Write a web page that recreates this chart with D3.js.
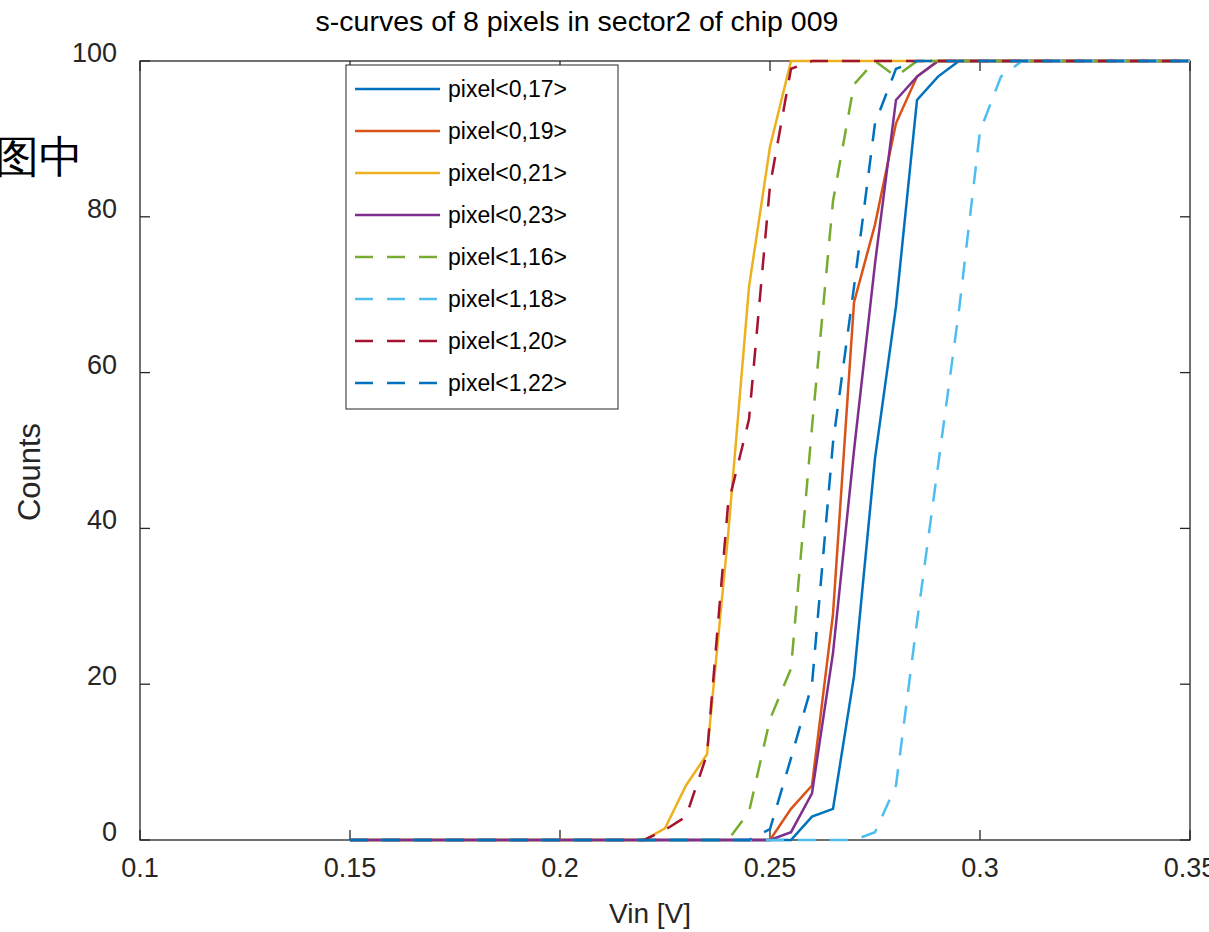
<!DOCTYPE html>
<html>
<head>
<meta charset="utf-8">
<script src="https://cdn.jsdelivr.net/npm/d3@7"></script>
<style>
  body { margin: 0; background: #fff; }
  text { font-family: "Liberation Sans", Arial, sans-serif; }
</style>
</head>
<body>
<script>
// sweep voltages (V)
var vin = [0.150, 0.155, 0.160, 0.165, 0.170, 0.175, 0.180, 0.185, 0.190, 0.195,
           0.200, 0.205, 0.210, 0.215, 0.220, 0.225, 0.230, 0.235, 0.240, 0.245,
           0.250, 0.255, 0.260, 0.265, 0.270, 0.275, 0.280, 0.285, 0.290, 0.295,
           0.300, 0.305, 0.310, 0.315, 0.320, 0.325, 0.330, 0.335, 0.340, 0.345, 0.350];

// counts per pixel
var p0_17 = [0,0,0,0,0,0,0,0,0,0, 0,0,0,0,0,0,0,0,0,0, 0,0,3,4,21,49,68.5,95,98,100, 100,100,100,100,100,100,100,100,100,100,100];
var p0_19 = [0,0,0,0,0,0,0,0,0,0, 0,0,0,0,0,0,0,0,0,0, 0,4,7,29,69,79,92,98,100,100, 100,100,100,100,100,100,100,100,100,100,100];
var p0_21 = [0,0,0,0,0,0,0,0,0,0, 0,0,0,0,0,1.5,7,11,39,71, 89,100,100,100,100,100,100,100,100,100, 100,100,100,100,100,100,100,100,100,100,100];
var p0_23 = [0,0,0,0,0,0,0,0,0,0, 0,0,0,0,0,0,0,0,0,0, 0,1,6,24,50,74,95,98,100,100, 100,100,100,100,100,100,100,100,100,100,100];
var p1_16 = [0,0,0,0,0,0,0,0,0,0, 0,0,0,0,0,0,0,0,0,3.6, 15.5,22,53,82,97,100,98,100,100,100, 100,100,100,100,100,100,100,100,100,100,100];
var p1_18 = [0,0,0,0,0,0,0,0,0,0, 0,0,0,0,0,0,0,0,0,0, 0,0,0,0,0,1,7,28,48,68, 91,98,100,100,100,100,100,100,100,100,100];
var p1_20 = [0,0,0,0,0,0,0,0,0,0, 0,0,0,0,0,1.3,3,11,43,54, 84,99,100,100,100,100,100,100,100,100, 100,100,100,100,100,100,100,100,100,100,100];
var p1_22 = [0,0,0,0,0,0,0,0,0,0, 0,0,0,0,0,0,0,0,0,0, 1.4,10.5,20,51,71,92,99,100,100,100, 100,100,100,100,100,100,100,100,100,100,100];

var names = ['pixel<0,17>', 'pixel<0,19>', 'pixel<0,21>', 'pixel<0,23>',
             'pixel<1,16>', 'pixel<1,18>', 'pixel<1,20>', 'pixel<1,22>'];
var seriesValues = [p0_17, p0_19, p0_21, p0_23, p1_16, p1_18, p1_20, p1_22];
var colors = ['#0072BD', '#D95319', '#EDB120', '#7E2F8E', '#77AC30', '#4DBEEE', '#A2142F', '#0072BD'];
var dashed = [false, false, false, false, true, true, true, true];

var xTicks = [0.1, 0.15, 0.2, 0.25, 0.3, 0.35];
var xTickLabels = ['0.1', '0.15', '0.2', '0.25', '0.3', '0.35'];
var yTicks = [0, 20, 40, 60, 80, 100];

var width = 1209;
var height = 932;
// plot box edges (note: "top" is reserved on window)
var pLeft = 140, pRight = 1190, pTop = 61, pBottom = 840;
var axisColor = '#262626';
var dash = '18,14';

var x = d3.scaleLinear().domain([0.1, 0.35]).range([pLeft, pRight]);
var y = d3.scaleLinear().domain([0, 100]).range([pBottom, pTop]);

var svg = d3.select('body').append('svg')
  .attr('width', width)
  .attr('height', height);

// axes box with inward ticks on all four sides
var box = svg.append('g');
box.append('rect')
  .attr('x', pLeft).attr('y', pTop)
  .attr('width', pRight - pLeft).attr('height', pBottom - pTop)
  .attr('fill', 'none').attr('stroke', axisColor).attr('stroke-width', 1.3);

var tickLen = 10;
xTicks.forEach(function(t) {
  box.append('line').attr('x1', x(t)).attr('x2', x(t)).attr('y1', pBottom).attr('y2', pBottom - tickLen)
    .attr('stroke', axisColor).attr('stroke-width', 1.3);
  box.append('line').attr('x1', x(t)).attr('x2', x(t)).attr('y1', pTop).attr('y2', pTop + tickLen)
    .attr('stroke', axisColor).attr('stroke-width', 1.3);
});
yTicks.forEach(function(t) {
  box.append('line').attr('x1', pLeft).attr('x2', pLeft + tickLen).attr('y1', y(t)).attr('y2', y(t))
    .attr('stroke', axisColor).attr('stroke-width', 1.3);
  box.append('line').attr('x1', pRight).attr('x2', pRight - tickLen).attr('y1', y(t)).attr('y2', y(t))
    .attr('stroke', axisColor).attr('stroke-width', 1.3);
});

svg.selectAll('.xlab')
  .data(xTicks)
  .enter().append('text')
    .attr('class', 'xlab')
    .attr('x', function(d) { return x(d); })
    .attr('y', pBottom + 37)
    .attr('text-anchor', 'middle')
    .attr('font-size', 27)
    .attr('fill', axisColor)
    .text(function(d, i) { return xTickLabels[i]; });

svg.selectAll('.ylab')
  .data(yTicks)
  .enter().append('text')
    .attr('class', 'ylab')
    .attr('x', 117)
    .attr('y', function(d) { return y(d) + 1; })
    .attr('text-anchor', 'end')
    .attr('font-size', 27)
    .attr('fill', axisColor)
    .text(function(d) { return d; });

// curves
var line = d3.line()
  .x(function(d, i) { return x(vin[i]); })
  .y(function(d) { return y(d); });

svg.selectAll('.curve')
  .data(seriesValues)
  .enter().append('path')
    .attr('class', 'curve')
    .attr('d', line)
    .attr('fill', 'none')
    .attr('stroke', function(d, i) { return colors[i]; })
    .attr('stroke-width', 2.5)
    .attr('stroke-dasharray', function(d, i) { return dashed[i] ? dash : null; });

// legend
var legend = svg.append('g');
legend.append('rect')
  .attr('x', 346).attr('y', 65).attr('width', 272).attr('height', 344)
  .attr('fill', '#fff').attr('stroke', axisColor).attr('stroke-width', 1);

var entry = legend.selectAll('.entry')
  .data(names)
  .enter().append('g')
    .attr('class', 'entry')
    .attr('transform', function(d, i) { return 'translate(0,' + (89 + 42 * i) + ')'; });

entry.append('line')
  .attr('x1', 355).attr('x2', 440)
  .attr('stroke', function(d, i) { return colors[i]; })
  .attr('stroke-width', 2.5)
  .attr('stroke-dasharray', function(d, i) { return dashed[i] ? dash : null; });

entry.append('text')
  .attr('x', 448)
  .attr('y', 8)
  .attr('font-size', 23)
  .attr('fill', '#000')
  .text(function(d) { return d; });

// titles
svg.append('text')
  .attr('x', 577).attr('y', 31)
  .attr('text-anchor', 'middle')
  .attr('font-size', 28.5)
  .attr('fill', '#000')
  .text('s-curves of 8 pixels in sector2 of chip 009');

svg.append('text')
  .attr('x', 650).attr('y', 923)
  .attr('text-anchor', 'middle')
  .attr('font-size', 28)
  .attr('fill', axisColor)
  .text('Vin [V]');

svg.append('text')
  .attr('transform', 'translate(40,472) rotate(-90)')
  .attr('text-anchor', 'middle')
  .attr('font-size', 31)
  .attr('fill', axisColor)
  .text('Counts');

svg.append('text')
  .attr('x', -5).attr('y', 172)
  .attr('font-family', '"Noto Sans CJK SC", sans-serif')
  .attr('font-size', 44)
  .attr('fill', '#000')
  .text('图中');
</script>
</body>
</html>
